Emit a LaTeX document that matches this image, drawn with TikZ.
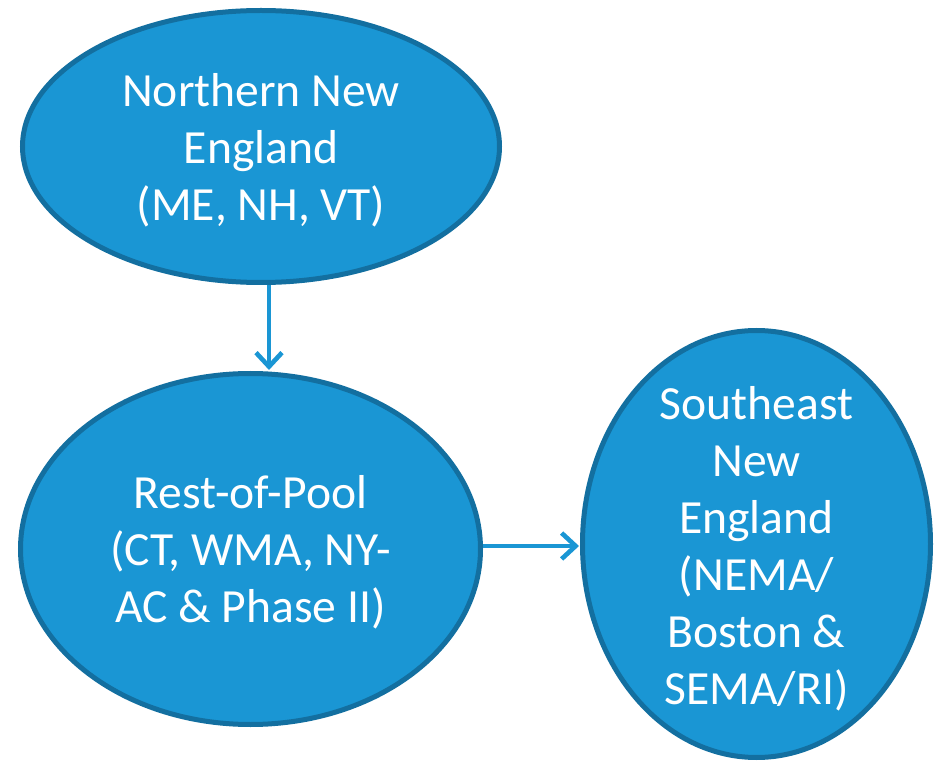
\documentclass[tikz,border=0pt]{standalone}
\usepackage{fontspec}
\setmainfont{Carlito}
\usetikzlibrary{shapes.geometric,arrows.meta,calc}
\definecolor{blobfill}{RGB}{26,150,212}
\definecolor{blobline}{RGB}{19,111,160}
\begin{document}
\begin{tikzpicture}[x=1pt,y=-1pt,
  blob/.style={ellipse, draw=blobline, fill=blobfill, line width=5pt, inner sep=0pt},
  txt/.style={text=white, align=center, font=\fontsize{47.6}{57}\selectfont, inner sep=0pt},
  conn/.style={draw=blobfill, line width=4.6pt, -{Straight Barb[length=14pt,width=26pt,line width=4.6pt]}}]
\useasboundingbox (0,0) rectangle (938,762);
\node[blob, minimum width=477pt, minimum height=272pt] (nne) at (261,146.5) {};
\node[txt] (nnet) at ($(nne.center)+(0,4)$) {Northern New\\England\\(ME, NH, VT)};
\node[blob, minimum width=460pt, minimum height=351pt] (rop) at (250.5,549) {};
\node[txt] (ropt) at ($(rop.center)+(0,3)$) {Rest-of-Pool\\(CT, WMA, NY-\\AC \& Phase II)};
\node[blob, minimum width=348pt, minimum height=427pt] (se) at (756.5,544) {};
\node[txt] (set) at ($(se.center)+(0,5)$) {Southeast\\New\\England\\(NEMA/\\Boston \&\\SEMA/RI)};
\coordinate (ax) at (269,0);
\coordinate (ay) at (0,546);
\draw[conn] (nne.south -| ax) -- ($(rop.north -| ax)+(0,-1)$);
\draw[conn] (rop.east |- ay) -- ($(se.west |- ay)+(-1,0)$);
\end{tikzpicture}
\end{document}
